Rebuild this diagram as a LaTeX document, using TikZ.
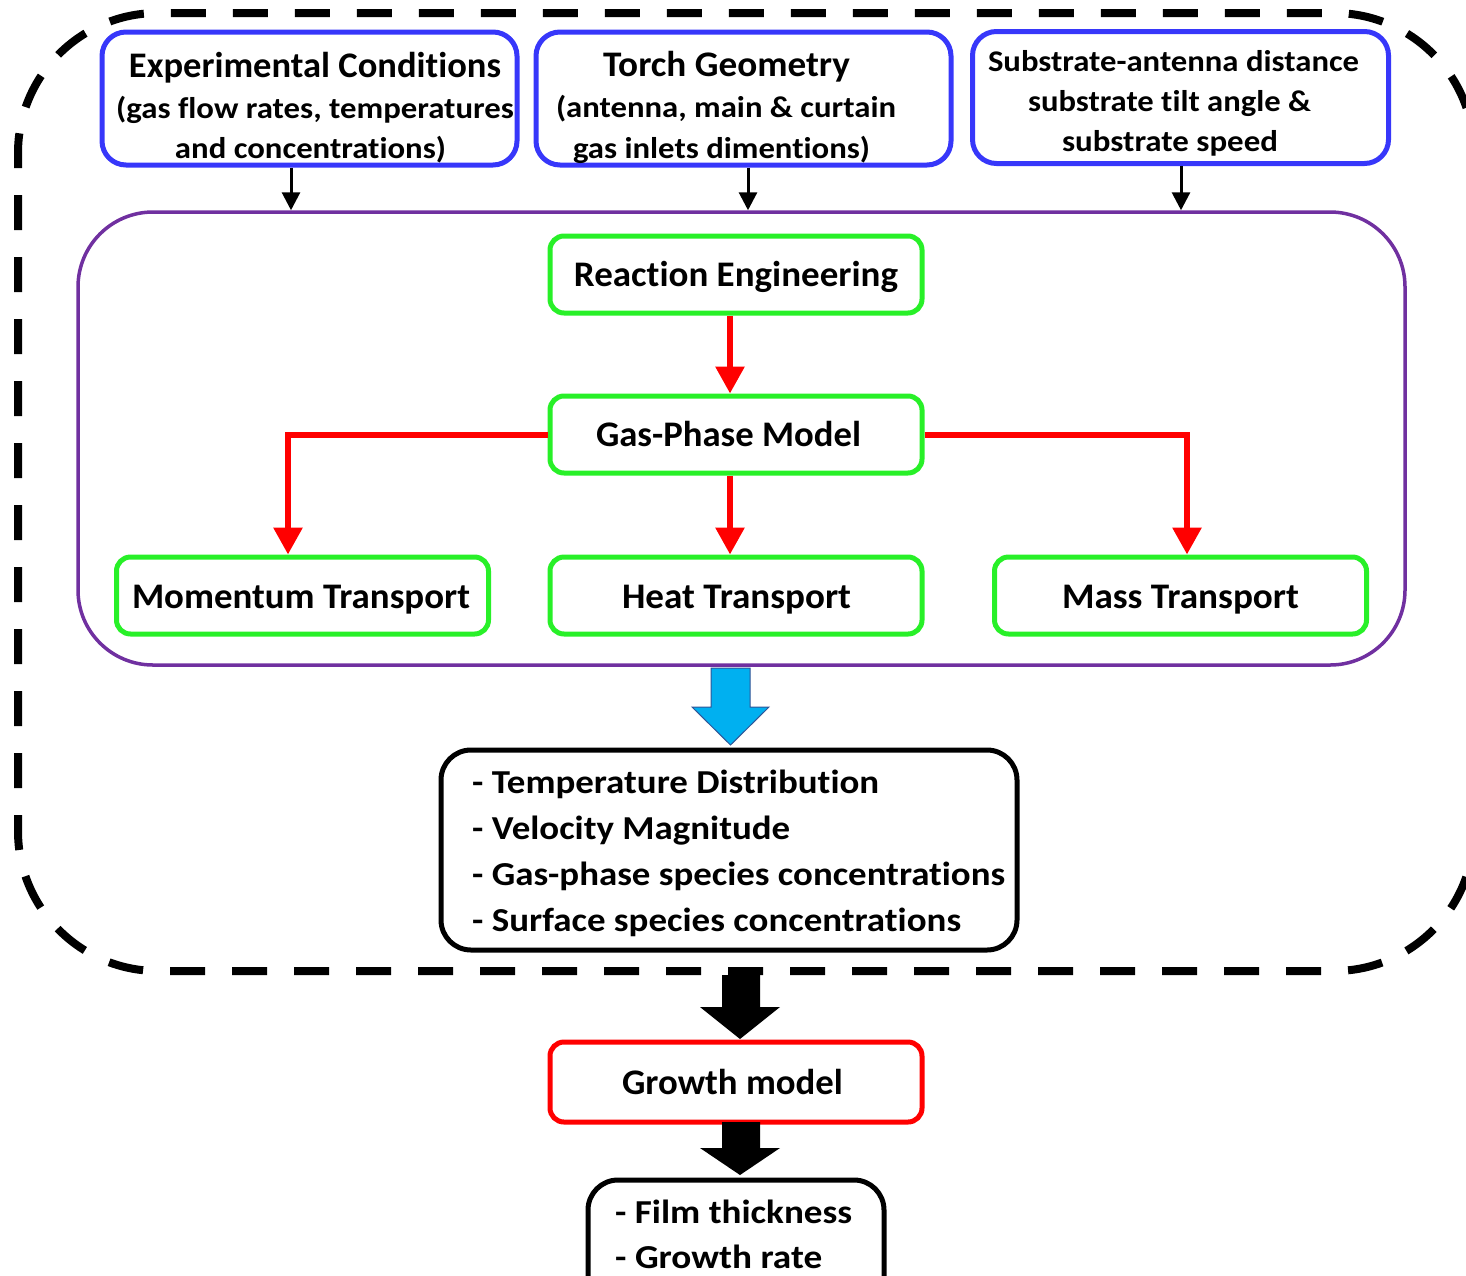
\documentclass[tikz,border=0pt]{standalone}
\usepackage{fontspec}
\usepackage{graphicx}
\setmainfont{Carlito}[Ligatures={NoCommon,NoContextual},Contextuals={NoAlternate}]
\usetikzlibrary{arrows.meta,calc}
\definecolor{boxblue}{RGB}{55,55,250}
\definecolor{boxgreen}{RGB}{40,240,40}
\definecolor{boxpurple}{RGB}{112,48,160}
\definecolor{arrowblue}{RGB}{0,176,240}
\definecolor{arrowedge}{RGB}{47,85,151}
\newcommand{\wfit}[2]{\resizebox{#1pt}{\height}{#2}}
\begin{document}
\begin{tikzpicture}[x=1pt,y=-1pt,
  bluebox/.style={draw=boxblue,line width=5pt,rounded corners=24pt,inner sep=0pt},
  greenbox/.style={draw=boxgreen,line width=5pt,rounded corners=14pt,inner sep=0pt,minimum width=372pt,minimum height=77pt},
  blackbox/.style={draw=black,line width=5pt,rounded corners=30pt,inner sep=0pt},
  redbox/.style={draw=red,line width=5pt,rounded corners=14pt,inner sep=0pt},
  txt/.style={inner sep=0pt,anchor=base,font=\bfseries\fontsize{30}{36}\selectfont},
  ttl/.style={inner sep=0pt,anchor=base,font=\bfseries\fontsize{36}{42}\selectfont},
  gtxt/.style={inner sep=0pt,anchor=base,font=\bfseries\fontsize{36}{42}\selectfont},
  ltxt/.style={inner sep=0pt,anchor=base west,font=\bfseries\fontsize{33.5}{40}\selectfont},
  thinarrow/.style={draw=black,line width=3pt,-{Triangle[length=18pt,width=18pt]}},
  redarrow/.style={draw=red,line width=6pt,-{Triangle[length=27pt,width=28pt]}},
  outerdash/.style={draw=black,line width=8pt,dash pattern=on 35pt off 27pt,dash phase=20pt,rounded corners=140pt}
]
\useasboundingbox (0,0) rectangle (1466,1275);

% outer dashed frame
\draw[outerdash] (18,13) rectangle (1474,971);

% top input boxes
\node[bluebox,minimum width=415pt,minimum height=133pt] (ec) at (309.5,98.5) {};
\node[ttl] (ec1) at (315,77) {\wfit{372}{Experimental Conditions}};
\node[txt] (ec2) at (315,118) {\wfit{398}{(gas flow rates, temperatures}};
\node[txt] (ec3) at (310.5,158) {\wfit{271}{and concentrations)}};

\node[bluebox,minimum width=415pt,minimum height=133pt] (tg) at (743.5,98.5) {};
\node[ttl] (tg1) at (726.5,76) {\wfit{247}{Torch Geometry}};
\node[txt] (tg2) at (726,117) {\wfit{340}{(antenna, main \& curtain}};
\node[txt] (tg3) at (721.5,158) {\wfit{297}{gas inlets dimentions)}};

\node[bluebox,minimum width=416pt,minimum height=132pt] (ss) at (1180.5,97.5) {};
\node[txt] (ss1) at (1173.5,71) {\wfit{371}{Substrate-antenna distance}};
\node[txt] (ss2) at (1169.5,111) {\wfit{283}{substrate tilt angle \&}};
\node[txt] (ss3) at (1170,151) {\wfit{216}{substrate speed}};

% gas-phase model frame
\node[draw=boxpurple,line width=3.5pt,rounded corners=75pt,minimum width=1327pt,minimum height=453pt,inner sep=0pt] (pm) at (741.5,438.5) {};

\coordinate (a1) at (291,0);
\coordinate (a2) at (748,0);
\coordinate (a3) at (1181,0);
\draw[thinarrow] (ec.south -| a1) -- (pm.north -| a1);
\draw[thinarrow] (tg.south -| a2) -- (pm.north -| a2);
\draw[thinarrow] (ss.south -| a3) -- (pm.north -| a3);

% model boxes
\node[greenbox] (re) at (736,274.5) {};
\node[gtxt] (ret) at (736,286) {\wfit{324}{Reaction Engineering}};
\node[greenbox] (gp) at (736,434.5) {};
\node[gtxt] (gpt) at (728.5,446.5) {\wfit{265}{Gas-Phase Model}};
\node[greenbox] (mt) at (302.5,595.5) {};
\node[gtxt] (mtt) at (301,608) {\wfit{338}{Momentum Transport}};
\node[greenbox] (ht) at (736,595.5) {};
\node[gtxt] (htt) at (736.5,608) {\wfit{229}{Heat Transport}};
\node[greenbox] (mst) at (1180.5,595.5) {};
\node[gtxt] (mstt) at (1180.5,608) {\wfit{237}{Mass Transport}};

\coordinate (r1) at (730,0);
\coordinate (r2) at (288,0);
\coordinate (r3) at (1187,0);
\draw[redarrow] (re.south -| r1) -- (gp.north -| r1);
\draw[redarrow] (gp.south -| r1) -- (ht.north -| r1);
\draw[redarrow] (gp.west) -| (mt.north -| r2);
\draw[redarrow] (gp.east) -| (mst.north -| r3);

% blue block arrow
\draw[fill=arrowblue,draw=arrowedge,line width=1pt]
  (711,668) -- (750,668) -- (750,707) -- (769,707) -- (730.5,745) -- (692,707) -- (711,707) -- cycle;

% results box
\node[blackbox,minimum width=576pt,minimum height=200pt] (res) at (729,850) {};
\node[ltxt] (res1) at (472,793) {\wfit{407}{- Temperature Distribution}};
\node[ltxt] (res2) at (472,839) {\wfit{318}{- Velocity Magnitude}};
\node[ltxt] (res3) at (472,885) {\wfit{533}{- Gas-phase species concentrations}};
\node[ltxt] (res4) at (472,931) {\wfit{489}{- Surface species concentrations}};

% black block arrow 1
\fill[black] (722,975) -- (760,975) -- (760,1007) -- (780,1007) -- (740,1039) -- (700,1007) -- (722,1007) -- cycle;

% growth model
\node[redbox,minimum width=372pt,minimum height=80pt] (gm) at (736,1082) {};
\node[gtxt] (gmt) at (732.5,1094) {\wfit{221}{Growth model}};

% black block arrow 2
\fill[black] (722,1122) -- (760,1122) -- (760,1148) -- (780,1148) -- (740,1175) -- (700,1148) -- (722,1148) -- cycle;

% output box
\node[blackbox,minimum width=296pt,minimum height=130pt] (out) at (736,1245) {};
\node[ltxt] (out1) at (615,1223) {\wfit{237}{- Film thickness}};
\node[ltxt] (out2) at (615,1268) {\wfit{207}{- Growth rate}};
\end{tikzpicture}
\end{document}
